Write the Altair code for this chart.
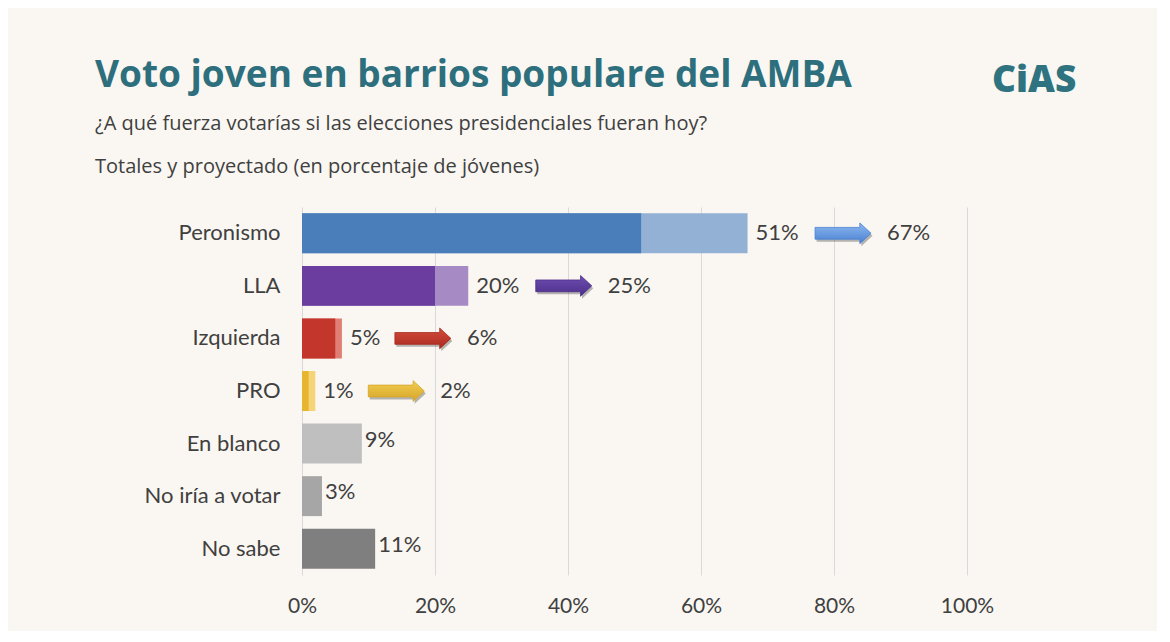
import altair as alt
import pandas as pd

# ---- data ----
categories = ["Peronismo", "LLA", "Izquierda", "PRO", "En blanco", "No iría a votar", "No sabe"]
current = [51, 20, 5, 1, 9, 3, 11]
projected = [67, 25, 6, 2, None, None, None]
dark_colors = ["#4a7ebb", "#6a3d9e", "#c2362b", "#e8b52f", "#bfbfbf", "#a6a6a6", "#7f7f7f"]
light_colors = ["#93b1d5", "#a68ac4", "#e07d74", "#f5d377", None, None, None]
arrow_top = ["#8db9f0", "#6f4fb0", "#d44c3c", "#f3cd50"]
arrow_bottom = ["#4a80d2", "#4d2e8a", "#a8291f", "#d5a628"]
x_ticks = [0, 20, 40, 60, 80, 100]

title = "Voto joven en barrios populare del AMBA"
subtitle = ["¿A qué fuerza votarías si las elecciones presidenciales fueran hoy?",
            "Totales y proyectado (en porcentaje de jóvenes)"]
logo = "CiAS"

# ---- layout ----
PLOT_W, PLOT_H = 665, 368
PX = 100.0 / PLOT_W  # data units per pixel

df = pd.DataFrame({
    "cat": categories,
    "cur": current,
    "proj": projected,
    "dark": dark_colors,
    "light": light_colors,
})
df["cur_label"] = df["cur"].map(lambda v: f"{v}%")
df["proj_label"] = df["proj"].map(lambda v: "" if pd.isna(v) else f"{int(v)}%")

proj_df = df[df["proj"].notna()].copy().reset_index(drop=True)
# arrow centre: after first label (gap + text width + gap + half arrow 28px)
proj_df["txtw"] = proj_df["cur_label"].str.len() * 14.5
proj_df["arrow_x"] = proj_df["proj"] + (10 + proj_df["txtw"] + 14 + 28) * PX
proj_df["lab2_x"] = proj_df["arrow_x"] + (28 + 16) * PX
proj_df["top"] = arrow_top
proj_df["bottom"] = arrow_bottom

gray_df = df[df["proj"].isna()].copy()

FONT = "Lato"
HFONT = "Open Sans"
TXT = "#404040"
TEAL = "#2e6f7e"
ARROW = "M-1,-0.21L0.6,-0.21L0.6,-0.37L1,0L0.6,0.37L0.6,0.21L-1,0.21Z"

x_scale = alt.Scale(domain=[0, 100], nice=False)
y_enc = alt.Y("cat:N", sort=categories, title=None,
              scale=alt.Scale(paddingInner=0.24, paddingOuter=0.12))

base_x_axis = alt.Axis(values=x_ticks, labelExpr="datum.value + '%'", title=None,
                       grid=True, gridColor="#d9d9d9", ticks=False, domain=False,
                       labelFlush=False, labelPadding=20, labelFontSize=21,
                       labelColor=TXT, labelFont=FONT)

light_bars = alt.Chart(proj_df).mark_bar().encode(
    x=alt.X("proj:Q", scale=x_scale, axis=base_x_axis),
    y=y_enc,
    color=alt.Color("light:N", scale=None),
)

dark_bars = alt.Chart(df).mark_bar().encode(
    x=alt.X("cur:Q", scale=x_scale),
    y=y_enc,
    color=alt.Color("dark:N", scale=None),
)

lab1 = alt.Chart(proj_df).mark_text(align="left", baseline="middle", dx=8,
                                     font=FONT, fontSize=22, color=TXT).encode(
    x=alt.X("proj:Q", scale=x_scale), y=y_enc, text="cur_label:N")

lab_gray = alt.Chart(gray_df).mark_text(align="left", baseline="middle", dx=3, dy=-4,
                                         font=FONT, fontSize=22, color=TXT).encode(
    x=alt.X("cur:Q", scale=x_scale), y=y_enc, text="cur_label:N")

shadow = alt.Chart(proj_df).mark_point(shape=ARROW, size=3136, filled=True,
                                        color="#333333", opacity=0.35,
                                        xOffset=1.5, yOffset=2.5).encode(
    x=alt.X("arrow_x:Q", scale=x_scale), y=y_enc)

arrows = []
for i, row in proj_df.iterrows():
    grad = alt.Gradient(gradient="linear", x1=0, y1=0, x2=0, y2=1,
                        stops=[alt.GradientStop(color=row["top"], offset=0),
                               alt.GradientStop(color=row["bottom"], offset=1)])
    arrows.append(
        alt.Chart(proj_df).transform_filter(alt.datum.cat == row["cat"]).mark_point(
            shape=ARROW, size=3136, filled=True, fill=grad, opacity=1,
            stroke=row["bottom"], strokeWidth=0.8).encode(
            x=alt.X("arrow_x:Q", scale=x_scale), y=y_enc)
    )

lab2 = alt.Chart(proj_df).mark_text(align="left", baseline="middle",
                                     font=FONT, fontSize=22, color=TXT).encode(
    x=alt.X("lab2_x:Q", scale=x_scale), y=y_enc, text="proj_label:N")

one = pd.DataFrame({"k": [0]})
title_layer = alt.Chart(one).mark_text(
    align="left", baseline="alphabetic", font=HFONT, fontSize=37, fontWeight="bold",
    color=TEAL, text=title).encode(x=alt.value(-207), y=alt.value(-120))
sub1_layer = alt.Chart(one).mark_text(
    align="left", baseline="alphabetic", font=HFONT, fontSize=20,
    color=TXT, text=subtitle[0]).encode(x=alt.value(-207), y=alt.value(-77))
sub2_layer = alt.Chart(one).mark_text(
    align="left", baseline="alphabetic", font=HFONT, fontSize=20,
    color=TXT, text=subtitle[1]).encode(x=alt.value(-207), y=alt.value(-34))
logo_layer = alt.Chart(one).mark_text(
    align="left", baseline="alphabetic", font=HFONT, fontSize=37, fontWeight=800,
    color="#2f7381", text=logo).encode(x=alt.value(690), y=alt.value(-115))

chart = alt.layer(light_bars, dark_bars, lab1, lab_gray, shadow, *arrows, lab2,
                  title_layer, sub1_layer, sub2_layer, logo_layer).properties(
    width=PLOT_W, height=PLOT_H,
    autosize=alt.AutoSizeParams(type="none"),
    padding={"left": 294, "top": 199, "right": 190, "bottom": 56},
    background="#faf7f2",
).configure_view(stroke=None).configure_axisY(
    ticks=False, domain=False, labelPadding=22, labelFontSize=22,
    labelColor=TXT, labelFont=FONT, grid=False,
)

chart.save("out.html", embed_options={"renderer": "svg", "actions": False})
